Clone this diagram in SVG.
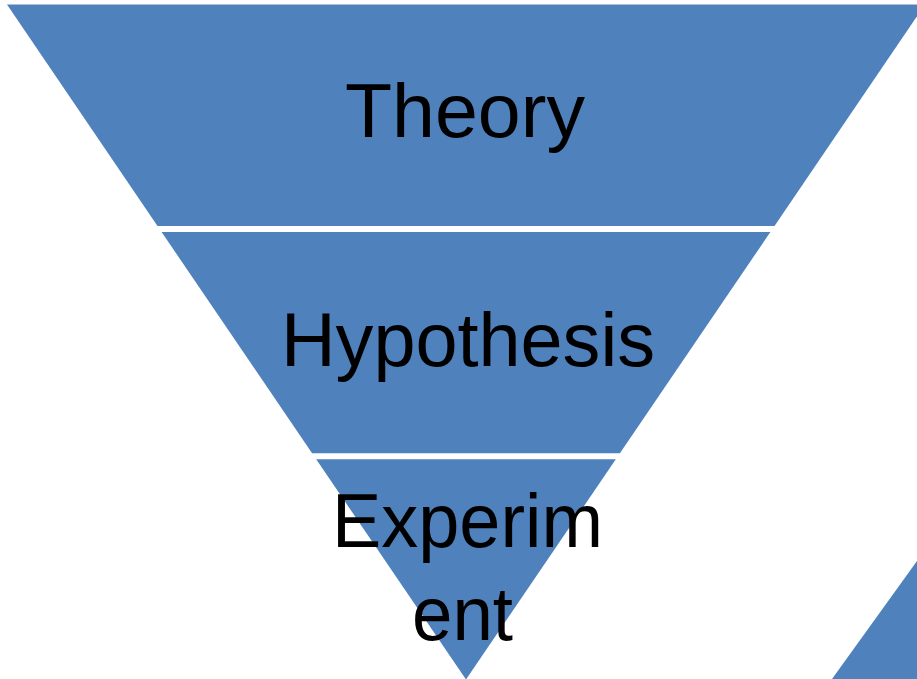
<svg xmlns="http://www.w3.org/2000/svg" width="917" height="679" viewBox="0 0 917 679">
<style>
.band{fill:#4F81BD;}
.lbl{font-family:"Liberation Sans",Arial,sans-serif;font-size:76px;fill:#000;text-anchor:middle;}
</style>
<rect width="917" height="679" fill="#fff"/>
<g id="theory">
<polygon class="band" points="7,4.5 925,4.5 774.5,226 157.5,226"/>
<text class="lbl" x="465" y="137" textLength="240" lengthAdjust="spacingAndGlyphs">Theory</text>
</g>
<g id="hypothesis">
<polygon class="band" points="161.6,232 770.4,232 619.9,453.3 312.1,453.3"/>
<text class="lbl" x="468" y="366" textLength="374" lengthAdjust="spacingAndGlyphs">Hypothesis</text>
</g>
<g id="experiment">
<polygon class="band" points="316.2,459.3 615.8,459.3 466,679.5"/>
<text class="lbl" x="467.5" y="547" textLength="271" lengthAdjust="spacingAndGlyphs">Experim</text>
<text class="lbl" x="462.5" y="640" textLength="101" lengthAdjust="spacingAndGlyphs">ent</text>
</g>
<g id="corner-shape">
<polygon class="band" points="832,679 917,561 917,679"/>
</g>
<g id="connectors"></g>
</svg>
